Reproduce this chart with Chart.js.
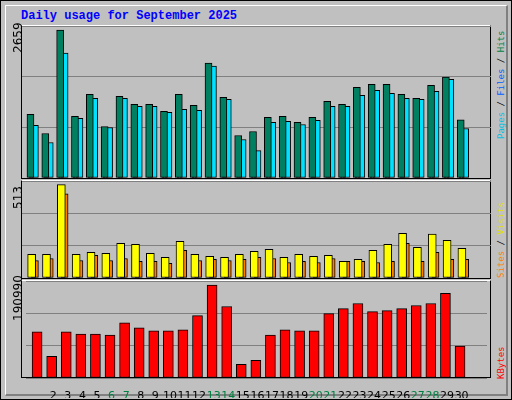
<!DOCTYPE html>
<html><head><meta charset="utf-8">
<script src="https://cdn.jsdelivr.net/npm/chart.js@4/dist/chart.umd.min.js"></script>
<style>
html,body{margin:0;padding:0}
#frame{position:absolute;left:0;top:0;width:510px;height:398px;background:#C0C0C0;border:1px solid #000;overflow:hidden}
#bevel{position:absolute;left:4px;top:4px;width:500px;height:388px;border-right:2px solid #808080;border-bottom:2px solid #808080;border-left:1px solid #fff;border-top:1px solid #fff}
.panel{position:absolute;left:20px;width:470px;border:1px solid #000;border-top-color:#fff;box-sizing:border-box}
canvas{position:absolute}
.lbl{position:absolute;font:12px "DejaVu Sans",sans-serif;transform:rotate(-90deg);transform-origin:left top;white-space:nowrap}
.rl{position:absolute;font:9px "DejaVu Sans Mono",monospace;transform:rotate(-90deg);transform-origin:left top;white-space:nowrap}
#title{position:absolute;left:20px;top:8px;font:bold 12px "Liberation Mono",monospace;color:#0000FF}
</style></head><body>
<div id="frame"><div id="bevel"></div>
<div id="title">Daily usage for September 2025</div>
<div class="panel" style="top:24px;height:154px"></div>
<div class="panel" style="top:179px;height:99px"></div>
<div class="panel" style="top:279px;height:98px"></div>
<canvas id="c1" style="left:21px;top:25px" width="469" height="152"></canvas>
<canvas id="c2" style="left:21px;top:180px" width="469" height="97"></canvas>
<canvas id="c3" style="left:21px;top:280px" width="469" height="117"></canvas>
<div class="lbl" style="left:10px;top:52px">2659</div>
<div class="lbl" style="left:10px;top:208px">513</div>
<div class="lbl" style="left:10px;top:320px">190990</div>
<div class="rl" style="left:495px;top:138px"><span style="color:#00C0E0">Pages</span> / <span style="color:#0060FF">Files</span> / <span style="color:#008040">Hits</span></div>
<div class="rl" style="left:495px;top:277px"><span style="color:#FF8000">Sites</span> / <span style="color:#E0E000">Visits</span></div>
<div class="rl" style="left:495px;top:378px;color:#FF0000">KBytes</div>
</div>
<script>
const days=[];for(let i=1;i<=31;i++)days.push(i);
const weekend=[6,7,13,14,20,21,27,28];
const hits=[1143,800,2659,1107,1504,926,1468,1324,1324,1197,1504,1306,2063,1450,764,836,1089,1107,999,1089,1378,1324,1630,1684,1684,1504,1432,1666,1811,1047];
const files=[945,638,2244,1071,1432,908,1432,1288,1288,1179,1233,1215,2009,1414,692,493,999,1017,962,1035,1288,1288,1486,1576,1522,1432,1414,1558,1775,890];
const pages=[818,403,800,746,1035,728,1251,836,1071,800,800,1053,1775,1197,493,403,800,800,782,764,1089,1179,1269,1233,1161,1233,1197,1269,1414,548];
const visits=[130,130,513,130,141,135,191,185,135,113,202,130,119,113,130,146,157,113,130,119,124,91,102,152,185,246,169,241,207,163];
const sites=[96,107,463,96,124,96,107,91,91,80,152,96,102,96,102,113,107,85,91,85,107,91,91,85,91,191,91,141,102,102];
const kbytes=[94792,44608,94792,90610,90610,88519,113611,103156,96883,96883,98974,128248,190990,147066,27880,36244,88519,98974,96883,96883,132430,142887,153340,136612,138703,142887,149160,153340,174250,65518];

function ds(vals,off,w,color){
  return {data:vals.map((v,i)=>({x:days[i]+off,y:v})),backgroundColor:color,borderColor:'#000',borderWidth:1,borderSkipped:false,barThickness:w,grouped:false};
}
function opts(max,showX){
  const x={type:'linear',min:0.13,max:31.74,display:showX,offset:false,
        grid:{display:false,offset:false},border:{display:false},
        ticks:{stepSize:1,autoSkip:false,maxRotation:0,padding:4,
          callback:v=>Number.isInteger(v)&&v>=1&&v<=31?String(v):'',
          font:{family:'DejaVu Sans',size:11},
          color:c=>weekend.includes(c.tick.value)?'#008040':'#000'}};
  if(showX)x.afterFit=s=>{s.height=20};
  return {responsive:false,animation:false,layout:{padding:0},
    plugins:{legend:{display:false},tooltip:{enabled:false}},
    scales:{x:x,
      y:{min:0,max:max,afterFit:s=>{s.width=0},
        ticks:{display:false,stepSize:max/3},border:{display:false},
        grid:{color:'#808080',lineWidth:1,drawTicks:false}}
    }};
}
new Chart(document.getElementById('c1'),{type:'bar',data:{datasets:[
  ds(hits,-0.30,7,'#008060'),ds(files,0,7,'#00E0FF'),ds(pages,-0.34,2,'#0040FF')]},options:opts(2731,false)});
new Chart(document.getElementById('c2'),{type:'bar',data:{datasets:[
  ds(visits,-0.22,8,'#FFFF00'),ds(sites,0,7,'#FF8000')]},options:opts(533,false)});
new Chart(document.getElementById('c3'),{type:'bar',data:{datasets:[
  ds(kbytes,-0.11,10,'#FF0000')]},options:opts(199560,true)});
</script>
</body></html>
